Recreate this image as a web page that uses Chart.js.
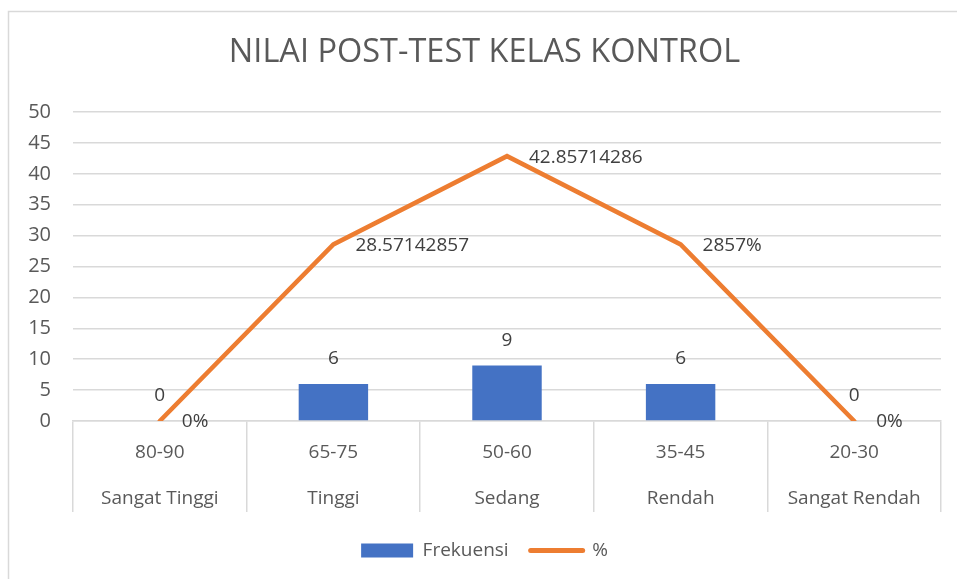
<!DOCTYPE html>
<html>
<head>
<meta charset="utf-8">
<script src="https://cdn.jsdelivr.net/npm/chart.js@4.4.0/dist/chart.umd.min.js"></script>
<style>
  html, body { margin: 0; padding: 0; background: #fff; }
</style>
</head>
<body>
<canvas id="grafik" width="957" height="579"></canvas>
<script>
// data nilai post-test kelas kontrol
const rentang = ['80-90', '65-75', '50-60', '35-45', '20-30'];
const kategori = ['Sangat Tinggi', 'Tinggi', 'Sedang', 'Rendah', 'Sangat Rendah'];
const frekuensi = [0, 6, 9, 6, 0];
const persen = [0, 28.57142857, 42.85714286, 28.57142857, 0];
const labelPersen = ['0%', '28.57142857', '42.85714286', '2857%', '0%'];
const sumbuY = { min: 0, max: 50, step: 5 };

const FONT = '"Open Sans", "DejaVu Sans", sans-serif';
const abu = '#595959';
const garis = '#d9d9d9';

// bingkai luar seperti di Excel
const bingkai = {
  id: 'bingkai',
  beforeDraw(chart) {
    const ctx = chart.ctx;
    ctx.save();
    ctx.fillStyle = '#ffffff';
    ctx.fillRect(0, 0, chart.width, chart.height);
    ctx.strokeStyle = garis;
    ctx.lineWidth = 1.5;
    ctx.strokeRect(8.5, 11.5, 1000, 1000);
    ctx.restore();
  }
};

// label nilai di atas batang dan di samping titik garis
const labelNilai = {
  id: 'labelNilai',
  afterDatasetsDraw(chart) {
    const ctx = chart.ctx;
    ctx.save();
    ctx.font = '19px ' + FONT;
    ctx.fillStyle = '#404040';
    ctx.textBaseline = 'middle';
    ctx.textAlign = 'center';
    chart.getDatasetMeta(0).data.forEach((bar, i) => {
      ctx.fillText(String(frekuensi[i]), bar.x, bar.y - 25);
    });
    ctx.textAlign = 'left';
    chart.getDatasetMeta(1).data.forEach((pt, i) => {
      ctx.fillText(labelPersen[i], pt.x + 22, pt.y + 1);
    });
    ctx.restore();
  }
};

new Chart(document.getElementById('grafik'), {
  type: 'bar',
  data: {
    labels: rentang.map((r, i) => [r, kategori[i]]),
    datasets: [
      {
        label: 'Frekuensi',
        data: frekuensi,
        backgroundColor: '#4472c4',
        borderWidth: 0,
        categoryPercentage: 1,
        barPercentage: 0.4,
        order: 2
      },
      {
        type: 'line',
        label: '%',
        data: persen,
        borderColor: '#ed7d31',
        backgroundColor: '#ed7d31',
        borderWidth: 4.5,
        borderCapStyle: 'round',
        pointRadius: 0,
        tension: 0,
        order: 1
      }
    ]
  },
  options: {
    responsive: false,
    animation: false,
    layout: { padding: { left: 28, right: 16, top: 0, bottom: 9 } },
    plugins: {
      tooltip: { enabled: false },
      title: {
        display: true,
        text: 'NILAI POST-TEST KELAS KONTROL',
        color: abu,
        font: { family: FONT, size: 32.5, weight: 'normal' },
        padding: { top: 33, bottom: 40 }
      },
      legend: {
        position: 'bottom',
        labels: {
          color: abu,
          font: { family: FONT, size: 19 },
          usePointStyle: true,
          pointStyleWidth: 52,
          boxHeight: 14,
          padding: 22,
          generateLabels(chart) {
            const items = Chart.defaults.plugins.legend.labels.generateLabels(chart);
            items.sort((a, b) => a.datasetIndex - b.datasetIndex);
            items.forEach(it => {
              if (it.datasetIndex === 0) { it.pointStyle = 'rect'; it.lineWidth = 0; }
              else { it.pointStyle = 'line'; it.lineWidth = 5; it.lineCap = 'round'; }
            });
            return items;
          }
        }
      }
    },
    scales: {
      x: {
        grid: { offset: true, drawOnChartArea: false, color: garis, lineWidth: 1.5, tickLength: 91 },
        border: { display: true, color: garis, width: 1.5 },
        ticks: {
          color: abu,
          font: { family: FONT, size: 19, lineHeight: 46 / 19 },
          padding: -82,
          maxRotation: 0,
          autoSkip: false
        },
        afterFit(s) { s.height = 98; }
      },
      y: {
        min: sumbuY.min,
        max: sumbuY.max,
        ticks: { stepSize: sumbuY.step, color: abu, font: { family: FONT, size: 20 }, padding: 22 },
        grid: { color: garis, lineWidth: 1.5, drawTicks: false },
        border: { display: false },
        afterFit(s) { s.width = 45; }
      }
    }
  },
  plugins: [bingkai, labelNilai]
});
</script>
</body>
</html>
